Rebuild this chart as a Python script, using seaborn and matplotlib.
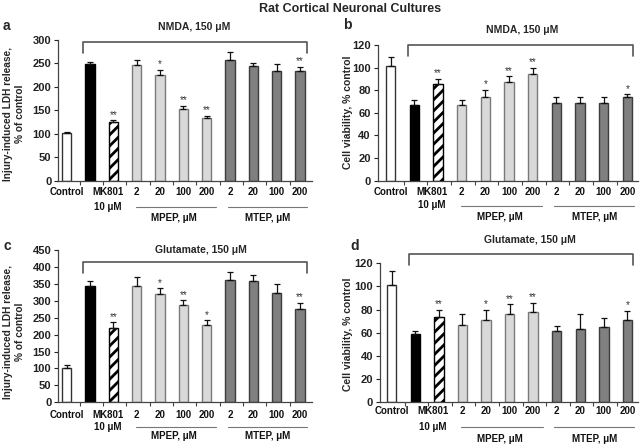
import numpy as np
import pandas as pd
import matplotlib
matplotlib.use("Agg")
import matplotlib.pyplot as plt
import matplotlib.transforms as mtransforms
import seaborn as sns

# ---------------- data ----------------
conditions = ["Control", "NMDA/Glu", "MK801 10", "MPEP 2", "MPEP 20", "MPEP 100", "MPEP 200",
              "MTEP 2", "MTEP 20", "MTEP 100", "MTEP 200"]
tick_labels = ["Control", "", "MK801", "2", "20", "100", "200", "2", "20", "100", "200"]

ldh_nmda = [101, 249, 125, 246, 225, 152, 134, 257, 244, 234.5, 233]
ldh_nmda_err = [3.5, 5, 3.5, 11, 11, 7, 4, 17, 8, 14.5, 9]
ldh_nmda_sig = ["", "", "**", "", "*", "**", "**", "", "", "", "**"]

via_nmda = [101.5, 67, 85.5, 67, 74.3, 87.6, 94.4, 69, 69, 69, 74.3]
via_nmda_err = [7.5, 4.4, 4.2, 4.4, 5.7, 4.7, 5.3, 5.3, 5.3, 5.3, 2.1]
via_nmda_sig = ["", "", "**", "", "*", "**", "**", "", "", "", "*"]

ldh_glu = [101.4, 344.6, 220.6, 342.6, 321, 286.5, 228.4, 361, 357.4, 324, 276.7]
ldh_glu_err = [7.6, 14.4, 15.4, 26.4, 15.7, 14.5, 13.6, 25, 19.6, 26.5, 17.3]
ldh_glu_sig = ["", "", "**", "", "*", "**", "*", "", "", "", "**"]

via_glu = [101.3, 58.7, 73.4, 67, 71.4, 76, 78, 61.6, 63.6, 65.3, 71.4]
via_glu_err = [12.4, 2.9, 6.6, 9, 8.6, 8.6, 8, 4.3, 12.4, 7.2, 7.2]
via_glu_sig = ["", "", "**", "", "*", "**", "**", "", "", "", "*"]

# ---------------- style ----------------
sns.set_style("ticks")
plt.rcParams["font.family"] = ["Liberation Sans", "DejaVu Sans"]
plt.rcParams["font.weight"] = "bold"
plt.rcParams["hatch.linewidth"] = 2.0
plt.rcParams["hatch.color"] = "black"

fill = {}
edge = {}
for c in conditions:
    if c == "Control":
        fill[c], edge[c] = "white", "#333333"
    elif c == "NMDA/Glu":
        fill[c], edge[c] = "black", "black"
    elif c.startswith("MK801"):
        fill[c], edge[c] = "white", "black"
    elif c.startswith("MPEP"):
        fill[c], edge[c] = "#d9d9d9", "#7a7a7a"
    else:
        fill[c], edge[c] = "#808080", "#3c3c3c"

W, H = 641, 446
fig = plt.figure(figsize=(W / 100, H / 100), dpi=100)
LBL = 7.0


def px_axes(l, r, t, b):
    return fig.add_axes([l / W, 1 - b / H, (r - l) / W, (b - t) / H])


def panel(ax, vals, errs, sigs, ymax, ystep, xlim, brk, lbl_off):
    df = pd.DataFrame({"cond": conditions, "val": vals})
    sns.barplot(data=df, x="cond", y="val", hue="cond", order=conditions,
                hue_order=conditions, palette=fill, width=0.4, errorbar=None,
                legend=False, ax=ax, linewidth=1.0, saturation=1)
    for c, p in zip(conditions, ax.patches):
        p.set_edgecolor(edge[c])
        p.set_linewidth(1.0)
        if c.startswith("MK801"):
            p.set_hatch("///")
    x = np.arange(len(conditions))
    ax.errorbar(x, vals, yerr=[np.zeros(len(vals)), errs], fmt="none",
                ecolor="#111111", elinewidth=0.9, capsize=2.2, capthick=0.9, zorder=3)
    for xi, v, e, s in zip(x, vals, errs, sigs):
        if s:
            ax.annotate(s, (xi, v + e), xytext=(0, 0.5), textcoords="offset points",
                        ha="center", va="bottom", fontsize=7, color="#333333",
                        fontweight="normal")
    ax.set_ylim(0, ymax)
    ax.set_yticks(np.arange(0, ymax + 1, ystep))
    ax.set_xlim(*xlim)
    ax.set_xticks(np.arange(10) + 0.55)
    ax.set_xticklabels([])
    ax.set_xlabel("")
    ax.set_ylabel("")
    ax.tick_params(axis="y", labelsize=8, length=3, width=0.8, pad=2, colors="#222222")
    ax.tick_params(axis="x", length=3, width=0.8, colors="#444444")
    for lab in ax.get_yticklabels():
        lab.set_fontweight("bold")
    sns.despine(ax=ax)
    for sp in ("left", "bottom"):
        ax.spines[sp].set_color("#444444")
        ax.spines[sp].set_linewidth(0.9)
    # bracket
    trans = mtransforms.blended_transform_factory(ax.transData, ax.transAxes)
    xl, xr, ytop, yend = brk
    ax.plot([xl, xl, xr, xr], [yend, ytop, ytop, yend], transform=trans,
            color="#555555", lw=1.2, clip_on=False)
    # category labels
    l1, l2, lg, lt = lbl_off
    for xi, t in zip(x, tick_labels):
        if not t:
            continue
        xpos = xi - 0.25 if t == "MK801" else xi
        ax.annotate(t, (xpos, 0), xycoords=trans, xytext=(0, -l1 * 0.72),
                    textcoords="offset points", ha="center", va="center",
                    fontsize=LBL, fontweight="bold", color="#111111")
    ax.annotate("10 μM", (1.75, 0), xycoords=trans, xytext=(0, -l2 * 0.72),
                textcoords="offset points", ha="center", va="center",
                fontsize=LBL, fontweight="bold", color="#111111")
    for (a0, a1, tx, name) in [(2.95, 6.4, 4.6, "MPEP, μM"), (6.9, 10.3, 8.6, "MTEP, μM")]:
        off = mtransforms.offset_copy(trans, fig=fig, y=-lg * 0.72, units="points")
        ax.plot([a0, a1], [0, 0], transform=off, color="#777777", lw=0.8, clip_on=False)
        ax.annotate(name, (tx, 0), xycoords=trans, xytext=(0, -lt * 0.72),
                    textcoords="offset points", ha="center", va="center",
                    fontsize=LBL, fontweight="bold", color="#111111")


axa = px_axes(58.3, 311.7, 40, 180.7)
panel(axa, ldh_nmda, ldh_nmda_err, ldh_nmda_sig, 300, 50, (-0.36, 10.5),
      (0.7, 10.3, 0.986, 0.905), (11, 26, 26.5, 37))
axb = px_axes(377.7, 638, 45, 180.7)
panel(axb, via_nmda, via_nmda_err, via_nmda_sig, 120, 20, (-0.55, 10.45),
      (0.73, 10.23, 1.0, 0.919), (11.5, 24, 25.5, 36))
axc = px_axes(58.3, 311.7, 250, 402.3)
panel(axc, ldh_glu, ldh_glu_err, ldh_glu_sig, 450, 50, (-0.36, 10.5),
      (0.7, 10.3, 0.923, 0.847), (12.5, 25, 24.5, 34))
axd = px_axes(380, 638, 263.3, 402.3)
panel(axd, via_glu, via_glu_err, via_glu_sig, 120, 20, (-0.5, 10.45),
      (0.73, 10.23, 1.067, 0.988), (8.5, 25, 24.5, 37))


def ftext(x, y, s, **kw):
    fig.text(x / W, 1 - y / H, s, **kw)


ftext(350, 9, "Rat Cortical Neuronal Cultures", ha="center", va="center",
      fontsize=9, fontweight="bold")
ftext(6, 26, "a", ha="center", va="center", fontsize=10, fontweight="bold")
ftext(347, 25, "b", ha="center", va="center", fontsize=10, fontweight="bold")
ftext(7, 246, "c", ha="center", va="center", fontsize=10, fontweight="bold")
ftext(355, 246, "d", ha="center", va="center", fontsize=10, fontweight="bold")
ftext(194, 27, "NMDA, 150 μM", ha="center", va="center", fontsize=7.5, fontweight="bold")
ftext(522, 30, "NMDA, 150 μM", ha="center", va="center", fontsize=7.5, fontweight="bold")
ftext(201, 250, "Glutamate, 150 μM", ha="center", va="center", fontsize=7.5, fontweight="bold")
ftext(530, 240, "Glutamate, 150 μM", ha="center", va="center", fontsize=7.5, fontweight="bold")
ftext(14, 114, "Injury-induced LDH release,\n% of control", ha="center", va="center",
      rotation=90, fontsize=7.3, fontweight="bold", linespacing=1.2)
ftext(14, 332, "Injury-induced LDH release,\n% of control", ha="center", va="center",
      rotation=90, fontsize=7.3, fontweight="bold", linespacing=1.2)
ftext(348, 112, "Cell viability, % control", ha="center", va="center",
      rotation=90, fontsize=7.5, fontweight="bold")
ftext(348, 334, "Cell viability, % control", ha="center", va="center",
      rotation=90, fontsize=7.5, fontweight="bold")

fig.savefig("out.png", dpi=100)
